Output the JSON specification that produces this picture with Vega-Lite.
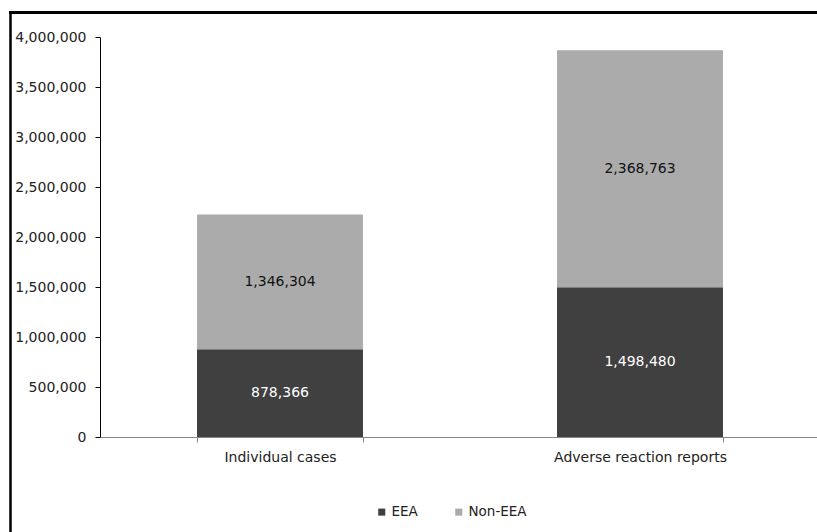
{
  "$schema": "https://vega.github.io/schema/vega-lite/v6.json",
  "width": 807,
  "height": 520,
  "autosize": {"type": "none"},
  "padding": {"left": 10, "top": 12, "right": 0, "bottom": 0},
  "background": "white",
  "config": {"view": {"stroke": null}, "font": "DejaVu Sans"},
  "data": {"values": [
    {"category": "Individual cases", "series": "EEA", "amount": 878366},
    {"category": "Individual cases", "series": "Non-EEA", "amount": 1346304},
    {"category": "Adverse reaction reports", "series": "EEA", "amount": 1498480},
    {"category": "Adverse reaction reports", "series": "Non-EEA", "amount": 2368763}
  ]},
  "resolve": {"scale": {"x": "independent", "y": "independent"}, "axis": {"x": "independent", "y": "independent"}},
  "layer": [
    {
      "encoding": {
        "x": {
          "field": "category", "type": "nominal",
          "sort": ["Individual cases", "Adverse reaction reports"],
          "scale": {"range": [90, 810], "paddingInner": 0.539, "paddingOuter": 0.2695},
          "axis": {"title": null, "orient": "bottom", "offset": -95, "labelAngle": 0, "tickBand": "extent", "tickSize": 5, "labelPadding": 8, "domainColor": "#868686", "tickColor": "#868686", "labelFont": "DejaVu Sans", "labelFontSize": 14, "labelColor": "#222222"}
        }
      },
      "layer": [
        {
          "mark": {"type": "bar"},
          "encoding": {
            "y": {
              "field": "amount", "type": "quantitative", "stack": "zero",
              "scale": {"domain": [0, 4000000], "range": [425, 25], "nice": false},
              "axis": {"title": null, "orient": "left", "offset": -90, "values": [0, 500000, 1000000, 1500000, 2000000, 2500000, 3000000, 3500000, 4000000], "format": ",.0f", "grid": false, "tickSize": 5, "labelPadding": 9, "domainColor": "#000000", "tickColor": "#000000", "labelFont": "DejaVu Sans", "labelFontSize": 14, "labelColor": "#222222"}
            },
            "color": {
              "field": "series", "type": "nominal",
              "scale": {"domain": ["EEA", "Non-EEA"], "range": ["#404040", "#ababab"]},
              "legend": {"title": null, "orient": "none", "direction": "horizontal", "legendX": 365, "legendY": 493, "symbolType": "square", "symbolSize": 50, "symbolStrokeWidth": 0, "labelFont": "DejaVu Sans", "labelFontSize": 13.5, "labelColor": "#222222", "columnPadding": 34, "labelOffset": 3}
            },
            "order": {"field": "series", "sort": "ascending"}
          }
        },
        {
          "transform": [
            {"stack": "amount", "groupby": ["category"], "sort": [{"field": "series", "order": "ascending"}], "as": ["v0", "v1"]},
            {"fold": ["v0", "v1"], "as": ["k", "pos"]}
          ],
          "mark": {"type": "text", "fontSize": 14, "font": "DejaVu Sans"},
          "encoding": {
            "y": {"field": "pos", "type": "quantitative", "aggregate": "mean", "stack": null},
            "text": {"field": "amount", "type": "quantitative", "aggregate": "max", "format": ",.0f"},
            "detail": {"field": "series", "type": "nominal"},
            "color": {"condition": {"test": "datum.series == 'EEA'", "value": "#ffffff"}, "value": "#111111"}
          }
        }
      ]
    },
    {
      "mark": {"type": "point", "opacity": 0, "size": 0},
      "encoding": {
        "x": {
          "field": "amount", "type": "quantitative",
          "scale": {"domain": [0, 4000000], "range": [0, 807], "nice": false},
          "axis": {"orient": "top", "offset": 0, "title": null, "labels": false, "ticks": false, "grid": false, "domainColor": "#000000", "domainWidth": 3, "domainCap": "square"}
        },
        "y": {
          "field": "amount", "type": "quantitative",
          "scale": {"domain": [0, 4000000], "range": [520, 0], "nice": false},
          "axis": {"orient": "left", "offset": 0, "title": null, "labels": false, "ticks": false, "grid": false, "domainColor": "#000000", "domainWidth": 2.5, "domainCap": "square"}
        }
      }
    }
  ]
}
